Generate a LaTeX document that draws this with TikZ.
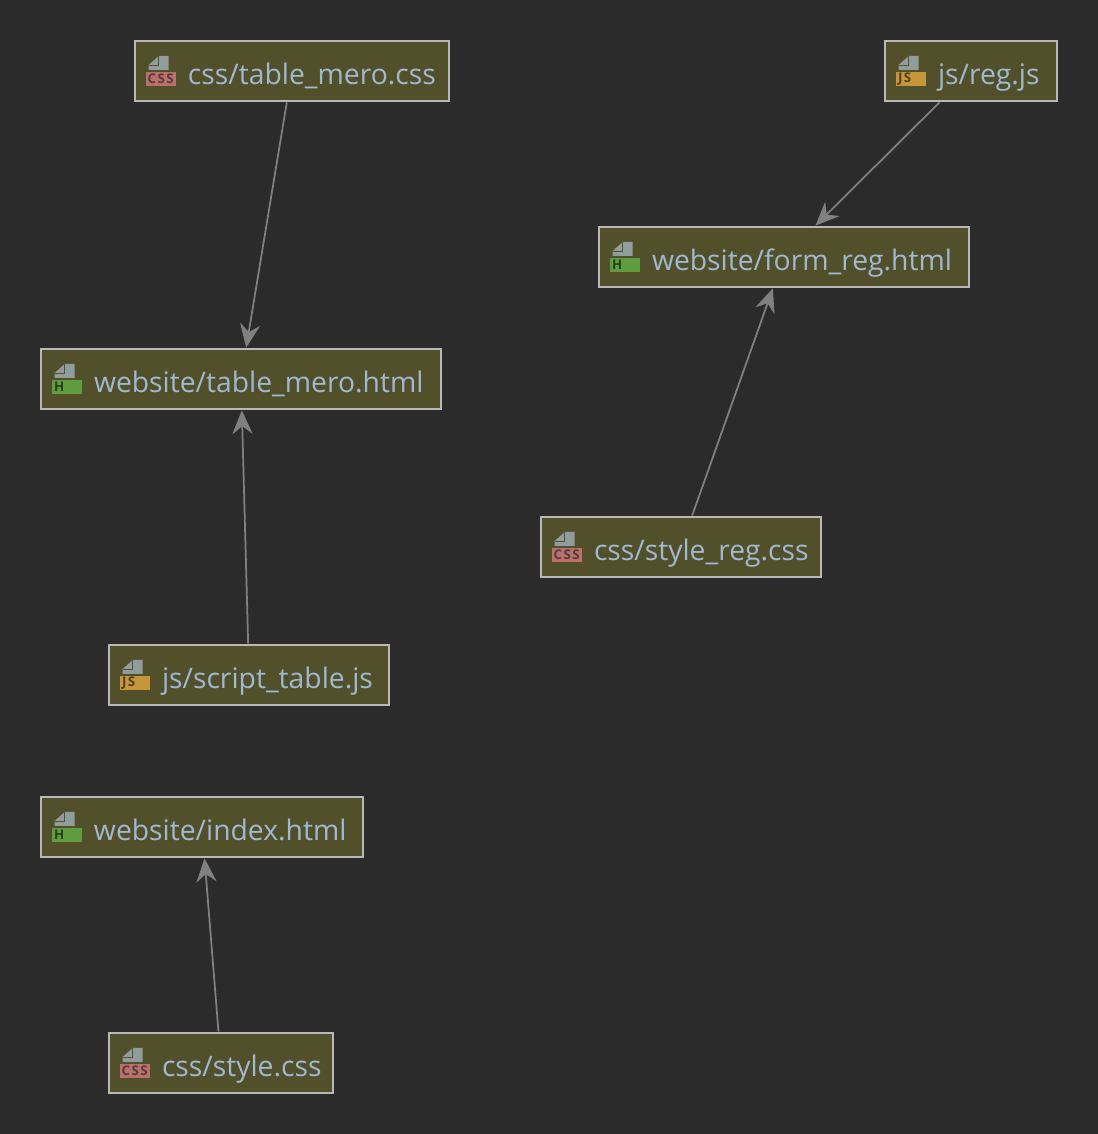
\documentclass[tikz,border=0pt]{standalone}
\usepackage{fontspec}
\setmainfont{Open Sans}
\usetikzlibrary{arrows.meta,positioning,calc}
\definecolor{bgdark}{HTML}{2B2B2B}
\definecolor{boxolive}{HTML}{52502B}
\definecolor{boxline}{HTML}{B8B8B8}
\definecolor{nametext}{HTML}{A0B8D0}
\definecolor{edgegrey}{HTML}{808080}
\definecolor{pagegrey}{HTML}{919D9D}
\definecolor{cssred}{HTML}{B9716C}
\definecolor{csstext}{HTML}{57393B}
\definecolor{htmlgreen}{HTML}{5F9B3F}
\definecolor{htmltext}{HTML}{25421B}
\definecolor{jsgold}{HTML}{C6973A}
\definecolor{jstext}{HTML}{4F3F1E}
\begin{document}
\begin{tikzpicture}[
    filebox/.style={rectangle, draw=boxline, line width=1.5pt, fill=boxolive, text=nametext,
                    minimum width=#1, text width=#1, minimum height=1.2cm, inner sep=0pt, align=left,
                    text height=16.6pt, text depth=1.2pt, font=\fontsize{16.1}{19}\selectfont,
                    execute at begin node={\hspace*{1.06cm}}},
    badge/.style={rectangle, minimum width=0.6cm, minimum height=0.28cm, inner sep=0pt,
                  font=\fontsize{7.6}{8}\selectfont\bfseries\addfontfeature{LetterSpace=10}},
    link/.style={-{Stealth[length=13.5pt,width=11.5pt,inset=4.5pt]}, edgegrey, line width=1pt},
    filepage/.pic={
        \fill[pagegrey] (0.30,0.02) -- (0.30,0.12) -- (0.50,0.30) -- (0.70,0.30) -- (0.70,0.02) -- cycle;
        \draw[boxolive, line width=0.35pt] (0.30,0.11) -- (0.50,0.11) -- (0.50,0.30);
    }]
\useasboundingbox (0,0) rectangle (21.96,22.68);
\fill[bgdark] (0,0) rectangle (21.96,22.68);
% file boxes
\node[filebox=6.28cm] (tablecss) at (5.84,21.26) {css/table\_mero.css};
\node[filebox=3.44cm] (regjs) at (19.42,21.26) {js/reg.js};
\node[filebox=7.40cm] (formhtml) at (15.68,17.54) {website/form\_reg.html};
\node[filebox=8.00cm] (tablehtml) at (4.82,15.10) {website/table\_mero.html};
\node[filebox=5.60cm] (stylereg) at (13.62,11.74) {css/style\_reg.css};
\node[filebox=5.60cm] (scriptjs) at (4.98,9.18) {js/script\_table.js};
\node[filebox=6.44cm] (indexhtml) at (4.04,6.14) {website/index.html};
\node[filebox=4.48cm] (stylecss) at (4.42,1.42) {css/style.css};
% icons
\foreach \f in {tablecss,regjs,formhtml,tablehtml,stylereg,scriptjs,indexhtml,stylecss} {
    \pic at (\f.west) {filepage};
}
\foreach \f in {tablecss,stylereg,stylecss} {
    \node[badge, fill=cssred, text=csstext] (\f badge) at ($(\f.west)+(0.54,-0.16)$) {CSS};
}
\foreach \f in {formhtml,tablehtml,indexhtml} {
    \node[badge, fill=htmlgreen, text=htmltext, align=left, text width=0.5cm] (\f badge) at ($(\f.west)+(0.54,-0.16)$) {H};
}
\foreach \f in {regjs,scriptjs} {
    \node[badge, fill=jsgold, text=jstext, align=left, text width=0.5cm] (\f badge) at ($(\f.west)+(0.54,-0.16)$) {JS};
}
% connectors
\draw[link] (tablecss) -- (tablehtml);
\draw[link] (scriptjs) -- (tablehtml);
\draw[link] (regjs) -- (formhtml);
\draw[link] (stylereg) -- (formhtml);
\draw[link] (stylecss) -- (indexhtml);
\end{tikzpicture}
\end{document}
